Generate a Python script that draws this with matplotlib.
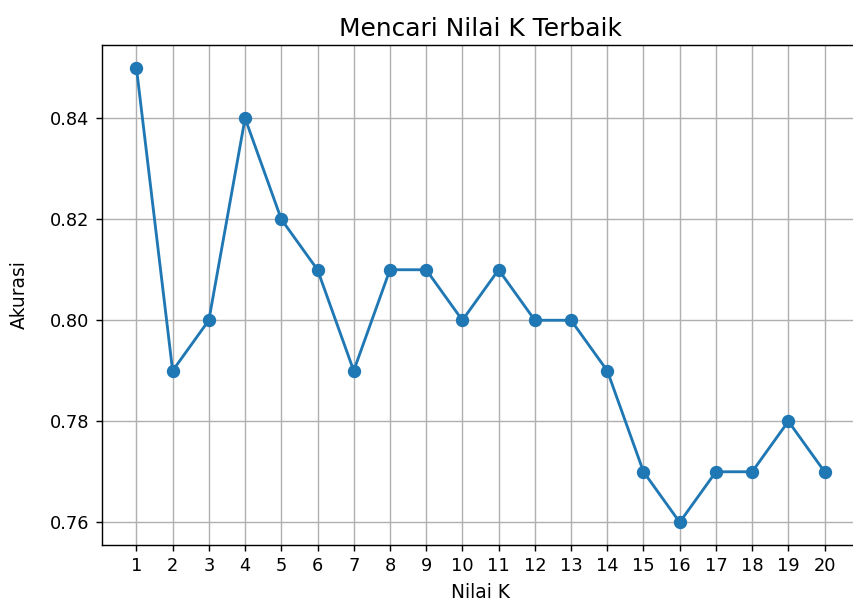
import matplotlib
matplotlib.use("Agg")
import matplotlib.pyplot as plt

k_values = list(range(1, 21))
accuracy = [0.85, 0.79, 0.80, 0.84, 0.82, 0.81, 0.79, 0.81, 0.81, 0.80,
            0.81, 0.80, 0.80, 0.79, 0.77, 0.76, 0.77, 0.77, 0.78, 0.77]

DPI = 128
fig = plt.figure(figsize=(853 / DPI, 601 / DPI), dpi=DPI)
ax = fig.add_axes([102 / 853, 1 - 545 / 601, 757 / 853, 500 / 601])
ax.plot(k_values, accuracy, marker='o', linewidth=1.6, markersize=6.5)
ax.set_xticks(k_values)
ax.set_title('Mencari Nilai K Terbaik', fontsize=14, pad=5)
ax.set_xlabel('Nilai K', fontsize=10.5)
ax.set_ylabel('Akurasi', fontsize=10.5, labelpad=12)
ax.spines['right'].set_visible(False)
ax.grid(True)
fig.savefig('out.png', dpi=DPI)
